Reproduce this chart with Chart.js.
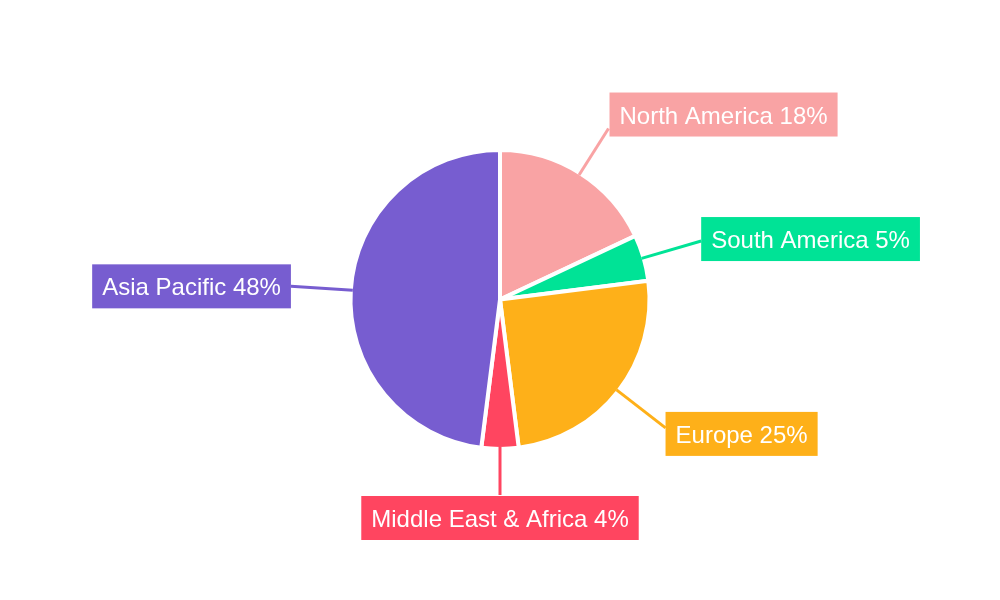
<!DOCTYPE html>
<html>
<head>
<meta charset="utf-8">
<title>Regional share</title>
<script src="https://cdn.jsdelivr.net/npm/chart.js@4.4.1/dist/chart.umd.min.js"></script>
<style>
  html, body { margin: 0; padding: 0; background: #fff; }
  #wrap { width: 1000px; height: 600px; }
</style>
</head>
<body>
<div id="wrap"><canvas id="pie" width="1000" height="600"></canvas></div>
<script>
// data
var regions = ['North America', 'South America', 'Europe', 'Middle East & Africa', 'Asia Pacific'];
var shares = [18, 5, 25, 4, 48];
var colors = ['#F9A3A4', '#00E396', '#FEB019', '#FF4560', '#775DD0'];

// label layout (leader length beyond the pie edge, box nudge)
var leaderLen = [55, 62, 62, 48, 62];
var labelNudge = [[1, -14], [0, -2], [0, 6], [0, 1], [0, 0]];

var FONT = '24px "Liberation Sans", Arial, sans-serif';

var outsideLabels = {
    id: 'outsideLabels',
    afterDatasetsDraw: function(chart) {
        var ctx = chart.ctx;
        var meta = chart.getDatasetMeta(0);
        var total = shares.reduce(function(a, b) { return a + b; }, 0);
        ctx.save();
        ctx.font = FONT;
        meta.data.forEach(function(arc, i) {
            var p = arc.getProps(['x', 'y', 'startAngle', 'endAngle', 'outerRadius'], true);
            var mid = (p.startAngle + p.endAngle) / 2;
            var ux = Math.cos(mid), uy = Math.sin(mid);
            var r0 = p.outerRadius - 2;
            var r1 = r0 + leaderLen[i];
            var x0 = p.x + r0 * ux, y0 = p.y + r0 * uy;
            var x1 = p.x + r1 * ux, y1 = p.y + r1 * uy;

            var text = regions[i] + ' ' + Math.round(shares[i] / total * 100) + '%';
            var w = ctx.measureText(text).width + 20;
            var h = 44;
            var bx, by;
            if (Math.abs(ux) > 0.5) {
                bx = ux > 0 ? x1 : x1 - w;
                by = y1 - h / 2;
            } else {
                bx = x1 - w / 2;
                by = uy > 0 ? y1 : y1 - h;
            }
            bx += labelNudge[i][0];
            by += labelNudge[i][1];

            ctx.strokeStyle = colors[i];
            ctx.lineWidth = 3;
            ctx.beginPath();
            ctx.moveTo(x0, y0);
            ctx.lineTo(x1, y1);
            ctx.stroke();

            ctx.fillStyle = colors[i];
            ctx.fillRect(bx, by, w, h);
            ctx.fillStyle = '#ffffff';
            ctx.textAlign = 'center';
            ctx.textBaseline = 'middle';
            ctx.fillText(text, bx + w / 2, by + h / 2 + 2.5);
        });
        ctx.restore();
    }
};

new Chart(document.getElementById('pie'), {
    type: 'pie',
    data: {
        labels: regions,
        datasets: [{
            data: shares,
            backgroundColor: colors,
            borderColor: '#ffffff',
            borderWidth: 4
        }]
    },
    options: {
        responsive: false,
        animation: false,
        radius: 149.5,
        layout: { padding: { top: 0, bottom: 1 } },
        plugins: {
            legend: { display: false },
            tooltip: { enabled: false }
        }
    },
    plugins: [outsideLabels]
});
</script>
</body>
</html>
